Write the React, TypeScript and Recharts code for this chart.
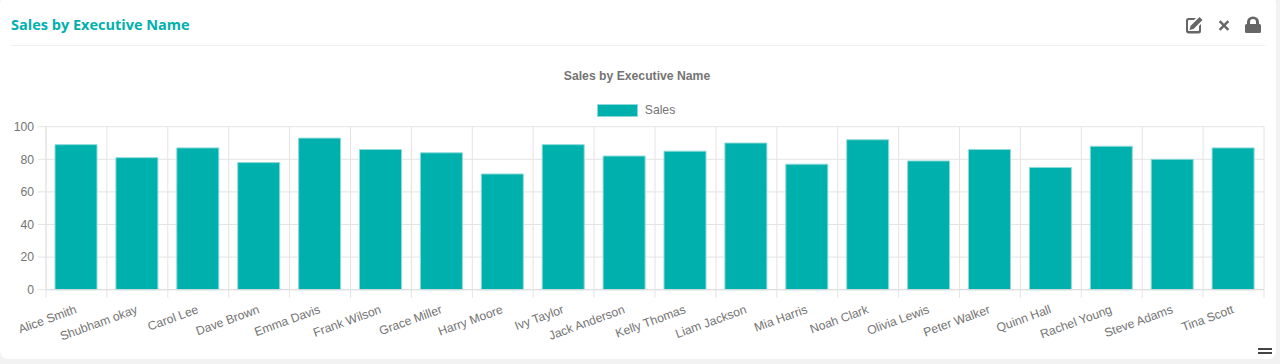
import React from "react";
import { BarChart, Bar, XAxis, YAxis, CartesianGrid, Legend } from "recharts";

const executives = ["Alice Smith","Shubham okay","Carol Lee","Dave Brown","Emma Davis","Frank Wilson","Grace Miller","Harry Moore","Ivy Taylor","Jack Anderson","Kelly Thomas","Liam Jackson","Mia Harris","Noah Clark","Olivia Lewis","Peter Walker","Quinn Hall","Rachel Young","Steve Adams","Tina Scott"];
const sales = [89,81,87,78,93,86,84,71,89,82,85,90,77,92,79,86,75,88,80,87];
const yTicks = [0,20,40,60,80,100];
const boundaries = executives.map((_, i) => i).concat(executives.length);
const rows = executives.map((name, i) => ({ name, slot: i, Sales: sales[i] }));

const TEAL = "#00b0ad";
const GRID = "#e4e4e4";
const TEXT = "#747474";
const FONT = "'Liberation Sans', Arial, sans-serif";

const NameTick = (props: any) => {
  const { x, y, payload } = props;
  return (
    <text x={x + 1} y={y + 14} textAnchor="end" fontSize={12.2} fontFamily={FONT} fill={TEXT}
      transform={`rotate(-20 ${x + 1} ${y + 14})`}>
      {payload.value}
    </text>
  );
};

const LegendContent = (props: any) => (
  <div style={{ display: "flex", justifyContent: "center", alignItems: "center", height: 27, boxSizing: "border-box", transform: "translate(4px, -3px)", fontFamily: FONT, fontSize: 12.2, color: TEXT }}>
    {(props.payload || []).map((p: any) => (
      <span key={p.value} style={{ display: "flex", alignItems: "center" }}>
        <span style={{ width: 41, height: 13, background: TEAL, border: "1px solid #8fdad8", boxSizing: "border-box", marginRight: 7 }} />
        {p.value}
      </span>
    ))}
  </div>
);

export default function App() {
  return (
    <div style={{ position: "absolute", left: 0, top: 0, width: 1280, height: 364, background: "#f2f2f2", overflow: "hidden" }}>
      <div style={{ position: "absolute", left: 0, top: -4, width: 1276, height: 363, background: "#fff", borderRadius: 8 }} />
      <div style={{ position: "absolute", left: 11, top: 15, fontFamily: "'Open Sans', sans-serif", fontWeight: 700, fontSize: 14.5, lineHeight: "20px", color: TEAL, whiteSpace: "nowrap" }}>Sales by Executive Name</div>
      <div style={{ position: "absolute", left: 11, top: 45, width: 1254, height: 1, background: "#f0f0f0" }} />
      <svg style={{ position: "absolute", left: 1180, top: 14 }} width={90} height={22} viewBox="0 0 90 22">
        <g fill="#666">
          <path fillRule="evenodd" d="M8 4h7l-2 2H8a1 1 0 0 0-1 1v9a1 1 0 0 0 1 1h9a1 1 0 0 0 1-1v-4l2-2v7a2.5 2.5 0 0 1-2.5 2.5H7.500A2.500 2.500 0 0 1 5 16.500V6.500A2.500 2.500 0 0 1 7.500 4z" transform="translate(1 0)" />
          <path d="M19.500 3l3 3-9 9-4 1 1-4z" />
          <path d="M38.800 7l1.700-1.700 3.500 3.500 3.500-3.500 1.700 1.700-3.500 3.500 3.500 3.500-1.700 1.700-3.500-3.500-3.500 3.500-1.700-1.700 3.500-3.500z" transform="translate(0 1)" />
          <path fillRule="evenodd" d="M67 10V8a6 5.500 0 0 1 12 0v2h.5a1.500 1.500 0 0 1 1.500 1.500v6a1.500 1.500 0 0 1-1.500 1.500h-13a1.500 1.500 0 0 1-1.500-1.500v-6A1.500 1.500 0 0 1 66.500 10zm3 0h6V8a3 3 0 0 0-6 0z" />
        </g>
      </svg>
      <div style={{ position: "absolute", left: 0, width: 1274, top: 68, textAlign: "center", fontFamily: FONT, fontWeight: 700, fontSize: 12.2, lineHeight: "16px", color: TEXT }}>Sales by Executive Name</div>
      <div style={{ position: "absolute", left: 1258, top: 348, width: 14, height: 2, background: "#444" }} />
      <div style={{ position: "absolute", left: 1258, top: 352, width: 14, height: 2, background: "#444" }} />
      <div style={{ position: "absolute", left: 0, top: 0 }}>
        <BarChart width={1280} height={364} data={rows} margin={{ top: 99.7, right: 16, bottom: 0, left: 0 }} barCategoryGap="0%">
          <CartesianGrid xAxisId="bounds" stroke={GRID} strokeWidth={1} />
          <XAxis xAxisId="bounds" dataKey="slot" type="number" domain={[0, executives.length]} ticks={boundaries} height={1}
            tick={() => <g />} tickSize={8} tickLine={{ stroke: GRID }} axisLine={{ stroke: "#dcdcdc" }} interval={0} allowDecimals={false} />
          <XAxis xAxisId="names" dataKey="name" height={73.3} axisLine={false} tickLine={false} interval={0} tick={<NameTick />} />
          <YAxis domain={[0, 100]} ticks={yTicks} width={46} tickSize={8} tickMargin={4}
            tick={{ fontSize: 12.2, fontFamily: FONT, fill: TEXT }} tickLine={{ stroke: GRID }} axisLine={{ stroke: GRID }} />
          <Legend verticalAlign="top" height={27} content={<LegendContent />} />
          <Bar xAxisId="names" dataKey="Sales" fill={TEAL} stroke="#8fdad8" strokeWidth={1} barSize={42} isAnimationActive={false} />
        </BarChart>
      </div>
    </div>
  );
}
